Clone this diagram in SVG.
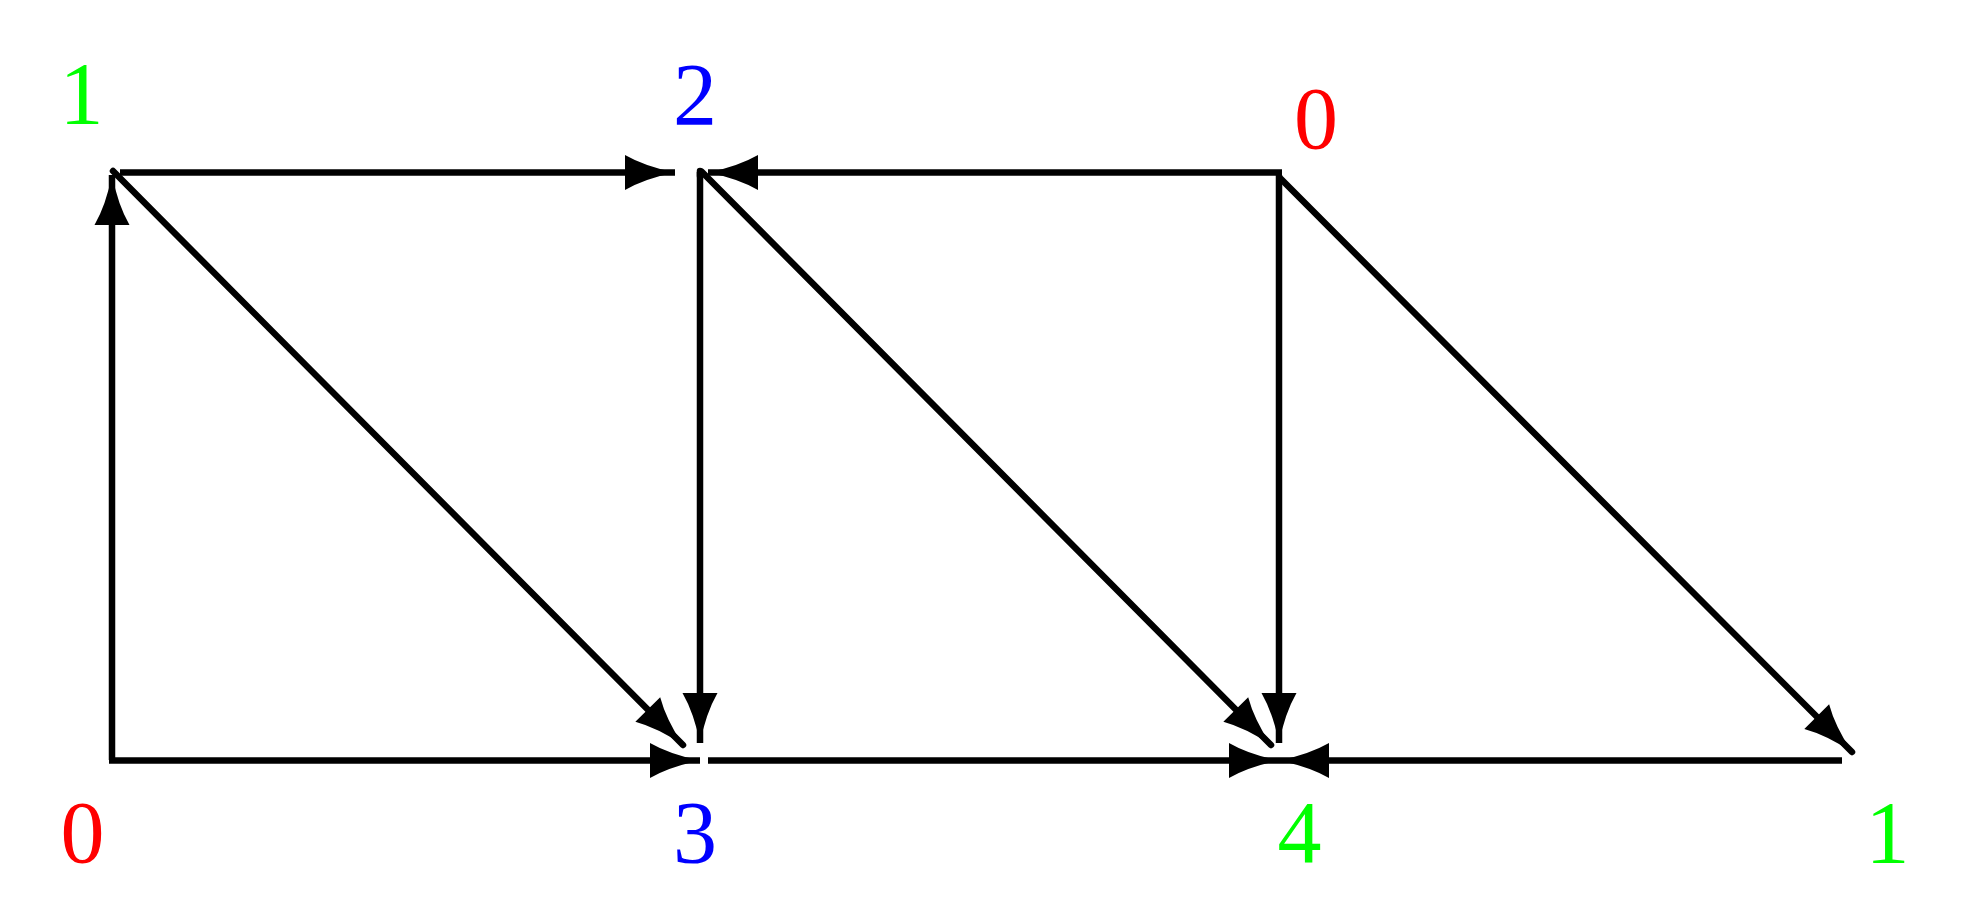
<svg xmlns="http://www.w3.org/2000/svg" width="1968" height="920" viewBox="0 0 1968 920">
  <style>
    .lbl { font-family: "Liberation Serif", "Times New Roman", serif; font-size: 88px; text-anchor: middle; }
    .red { fill: #ff0000; }
    .green { fill: #00ff00; }
    .blue { fill: #0000ff; }
    .edge { stroke: #000; stroke-width: 6.5; fill: none; stroke-linecap: butt; }
    .diag { stroke-linecap: round; }
    .arr { marker-end: url(#ah); }
  </style>
  <defs>
    <marker id="ah" markerUnits="userSpaceOnUse" viewBox="-52 -20 54 40" markerWidth="54" markerHeight="40" refX="0" refY="0" orient="auto" overflow="visible">
      <path d="M0,0 Q-30,-6 -50,-17.5 L-50,17.5 Q-30,6 0,0 Z" fill="#000"/>
    </marker>
  </defs>
  <rect width="1968" height="920" fill="#fff"/>
  <g id="connectors">
    <line class="edge arr" x1="112" y1="760" x2="112" y2="175"/>
    <line class="edge arr" x1="120" y1="172.5" x2="675" y2="172.5"/>
    <line class="edge arr" x1="1282" y1="172.5" x2="708" y2="172.5"/>
    <line class="edge diag arr" x1="113" y1="171" x2="683" y2="745"/>
    <line class="edge arr" x1="700" y1="172" x2="700" y2="743"/>
    <line class="edge diag" x1="700" y1="171" x2="700" y2="176"/>
    <line class="edge diag arr" x1="702" y1="172" x2="1271" y2="745"/>
    <line class="edge arr" x1="109" y1="760.5" x2="700" y2="760.5"/>
    <line class="edge arr" x1="708" y1="760.5" x2="1279" y2="760.5"/>
    <line class="edge arr" x1="1279" y1="175" x2="1279" y2="743"/>
    <line class="edge arr" x1="1842" y1="760.5" x2="1279" y2="760.5"/>
    <line class="edge diag arr" x1="1281" y1="179" x2="1852" y2="752"/>
  </g>
  <g id="node-1-top-left"><text class="lbl green" x="81.5" y="123">1</text></g>
  <g id="node-2"><text class="lbl blue" x="695" y="124">2</text></g>
  <g id="node-0-top-right"><text class="lbl red" x="1316" y="148">0</text></g>
  <g id="node-0-bottom-left"><text class="lbl red" x="82.5" y="862">0</text></g>
  <g id="node-3"><text class="lbl blue" x="695" y="862">3</text></g>
  <g id="node-4"><text class="lbl green" x="1299.5" y="862">4</text></g>
  <g id="node-1-bottom-right"><text class="lbl green" x="1887.5" y="862">1</text></g>
</svg>
